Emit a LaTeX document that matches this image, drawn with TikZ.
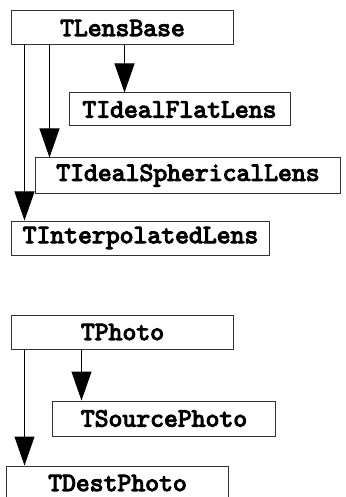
\documentclass[tikz,border=0pt]{standalone}
\usepackage{fontspec}
\newfontfamily\clsfont{lmmono10-regular.otf}[FakeBold=4]
\usetikzlibrary{arrows.meta}
\tikzset{
  cls/.style={draw=black!80, line width=1bp, fill=white, inner sep=0pt,
    font=\clsfont\bfseries\fontsize{26.5}{29}\selectfont},
  inh/.style={draw=black, line width=1bp, -{Triangle[width=20bp,length=29bp]}}
}
\begin{document}
\begin{tikzpicture}[x=1bp,y=-1bp]
\useasboundingbox (0,0) rectangle (345,497);
\clip (0,0) rectangle (345,497);
% lens hierarchy
\node[cls, minimum width=221bp, minimum height=34bp] (lb) at (122.5,28) {TLensBase};
\node[cls, minimum width=221bp, minimum height=33bp] (fl) at (179.5,109.5) {TIdealFlatLens};
\node[cls, minimum width=304bp, minimum height=35bp] (sl) at (188,175.5) {TIdealSphericalLens};
\node[cls, minimum width=257bp, minimum height=34bp] (il) at (140.5,238) {TInterpolatedLens};
\draw[inh] ([xshift=113bp]lb.south west) -- ([xshift=113bp]lb.south west |- fl.north);
\draw[inh] ([xshift=38bp]lb.south west) -- ([xshift=38bp]lb.south west |- sl.north);
\draw[inh] ([xshift=13bp]lb.south west) -- ([xshift=13bp]lb.south west |- il.north);
% photo hierarchy
\node[cls, minimum width=221bp, minimum height=34bp] (ph) at (122.5,332) {TPhoto};
\node[cls, minimum width=222bp, minimum height=35bp] (sp) at (164,418.5) {TSourcePhoto};
\node[cls, minimum width=221bp, minimum height=34bp] (dp) at (117.5,483) {TDestPhoto};
\draw[inh] ([xshift=70bp]ph.south west) -- ([xshift=70bp]ph.south west |- sp.north);
\draw[inh] ([xshift=13bp]ph.south west) -- ([xshift=13bp]ph.south west |- dp.north);
\end{tikzpicture}
\end{document}
